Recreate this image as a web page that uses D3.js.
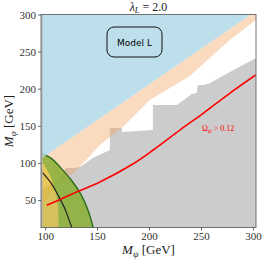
<!DOCTYPE html>
<html>
<head>
<meta charset="utf-8">
<script src="https://cdn.jsdelivr.net/npm/d3@7"></script>
<style>
  body { margin: 0; background: #fff; }
  svg { display: block; }
</style>
</head>
<body>
<svg id="chart" width="266" height="264"></svg>
<script>
// axis ticks
var xTicks = [100, 150, 200, 250, 300];
var yTicks = [50, 100, 150, 200, 250, 300];

// region boundaries as [M_psi, M_phi]
var blueEdge = [[96, 105.6], [298, 300]];
var peachEdge = [[303, 292.6], [277.7, 265.6], [239.3, 217.1], [200.8, 184.8], [174.8, 148.4],
  [152.7, 124.1], [128.7, 87.7], [109.5, 70.2], [96, 39]];
var grayEdge = [[303, 241.4], [277.7, 222.5], [258.5, 207.3], [252, 205], [247, 205], [246, 194.2],
  [241.2, 193], [226.8, 178], [203.7, 178], [203.7, 144.3], [173.9, 141.6], [173.9, 147],
  [162.3, 147], [162.3, 117.4], [146, 106.6], [133.5, 94.5], [128.7, 93.1], [120, 93.1],
  [114.3, 79.6], [104.7, 70.2], [96, 63.5]];
var greenOuter = [[96, 113.5], [97, 112.9], [105.9, 106.2], [115.5, 92.7], [125.1, 77], [134.8, 56.7],
  [141.2, 36.5], [146, 14], [146.6, 10]];
var greenInner = [[96, 103], [97, 101.6], [104.4, 83.7], [109.2, 65.8], [112.3, 43.3], [113, 12.3], [113, 10]];
var blackCurve = [[96, 89], [97.9, 86.3], [105.9, 72.5], [112.3, 56.7], [118.8, 38.8], [123.6, 20.8], [126.5, 10]];
var redCurve = [[101.5, 42.9], [115.9, 51.8], [130.3, 60.8], [152.7, 74.3], [184.8, 98.9], [204, 117.4],
  [229.7, 144.3], [252.1, 166.8], [277.7, 193.8], [302.7, 218.5]];

var svg = d3.select("#chart");
var x = d3.scaleLinear().domain([96, 303]).range([41, 256]);
var y = d3.scaleLinear().domain([13, 300]).range([227.5, 14.5]);

svg.append("clipPath").attr("id", "clip")
  .append("rect").attr("x", 41).attr("y", 14.5).attr("width", 215).attr("height", 213);

var g = svg.append("g").attr("clip-path", "url(#clip)");
var line = d3.line().x(function(d) { return x(d[0]); }).y(function(d) { return y(d[1]); });
var smooth = d3.line().curve(d3.curveCatmullRom).x(function(d) { return x(d[0]); }).y(function(d) { return y(d[1]); });

// gray excluded region
g.append("path")
  .attr("d", line(grayEdge.concat([[96, 5], [310, 5]])) + "Z")
  .attr("fill", "#cccccc");

// peach band
g.append("path")
  .attr("d", line([[96, 5], [96, 105.6], [298, 300], [310, 310], [310, 292.6]].concat(peachEdge)) + "Z")
  .attr("fill", "#f4a460").attr("opacity", 0.4);

// yellow disc and green band on top
g.append("path")
  .attr("d", smooth(greenOuter) + "L" + x(90) + "," + y(5) + "L" + x(90) + "," + y(113.5) + "Z")
  .attr("fill", "#dcb918").attr("opacity", 0.62);
g.append("path")
  .attr("d", smooth(greenOuter) + "L" + smooth(greenInner.slice().reverse()).slice(1) + "Z")
  .attr("fill", "#5aa83a").attr("opacity", 0.55);
g.append("path")
  .attr("d", smooth(greenOuter))
  .attr("fill", "none").attr("stroke", "#2d6e1e").attr("stroke-width", 1.4);

// blue region
g.append("path")
  .attr("d", line([[96, 300.5], [96, 300], blueEdge[0], blueEdge[1], [298, 310], [90, 310]]) + "Z")
  .attr("fill", "lightblue").attr("opacity", 0.82);

g.append("path").attr("d", smooth(blackCurve))
  .attr("fill", "none").attr("stroke", "#222").attr("stroke-width", 1.2);
g.append("path").attr("d", smooth(redCurve))
  .attr("fill", "none").attr("stroke", "red").attr("stroke-width", 1.6);

// thin gray strip at the left edge
g.append("rect").attr("x", 41).attr("y", 14.5).attr("width", 1.6).attr("height", 213).attr("fill", "#bbbbbb");

// frame
svg.append("rect").attr("x", 41).attr("y", 14.5).attr("width", 215).attr("height", 213)
  .attr("fill", "none").attr("stroke", "#555").attr("stroke-width", 0.8);

var serif = "'Liberation Serif', 'DejaVu Serif', serif";

var xAxis = svg.append("g").attr("transform", "translate(0,227.5)")
  .call(d3.axisBottom(x).tickValues(xTicks).tickSize(3).tickPadding(2));
var yAxis = svg.append("g").attr("transform", "translate(41,0)")
  .call(d3.axisLeft(y).tickValues(yTicks).tickSize(3).tickPadding(2));
[xAxis, yAxis].forEach(function(a) {
  a.select(".domain").remove();
  a.selectAll("line").attr("stroke", "#444").attr("stroke-width", 0.8);
  a.selectAll("text").attr("font-family", serif).attr("font-size", 11).attr("fill", "#333");
});

// model box
svg.append("rect").attr("x", 107).attr("y", 27).attr("width", 55).attr("height", 30)
  .attr("rx", 7).attr("fill", "none").attr("stroke", "#111").attr("stroke-width", 1);
svg.append("text").attr("x", 134.5).attr("y", 45.5).attr("text-anchor", "middle")
  .attr("font-family", "'DejaVu Sans', sans-serif").attr("font-size", 9).text("Model L");

// title
var t = svg.append("text").attr("x", 148.5).attr("y", 11).attr("text-anchor", "middle")
  .attr("font-family", serif).attr("font-size", 12).attr("fill", "#222");
t.append("tspan").attr("font-style", "italic").text("λ");
t.append("tspan").attr("font-style", "italic").attr("font-size", 8.5).attr("dy", 2).text("L");
t.append("tspan").attr("dy", -2).text(" = 2.0");

// axis labels
var xl = svg.append("text").attr("x", 148.5).attr("y", 254).attr("text-anchor", "middle")
  .attr("font-family", serif).attr("font-size", 13).attr("fill", "#222");
xl.append("tspan").attr("font-style", "italic").text("M");
xl.append("tspan").attr("font-style", "italic").attr("font-size", 9).attr("dy", 3).text("ψ");
xl.append("tspan").attr("dy", -3).text(" [GeV]");

var yl = svg.append("text").attr("transform", "translate(13,121) rotate(-90)").attr("text-anchor", "middle")
  .attr("font-family", serif).attr("font-size", 13).attr("fill", "#222");
yl.append("tspan").attr("font-style", "italic").text("M");
yl.append("tspan").attr("font-style", "italic").attr("font-size", 9).attr("dy", 3).text("φ");
yl.append("tspan").attr("dy", -3).text(" [GeV]");

// relic label
var rl = svg.append("text").attr("x", 202).attr("y", 131).attr("font-family", serif)
  .attr("font-size", 8).attr("fill", "red");
rl.append("tspan").text("Ω");
rl.append("tspan").attr("font-style", "italic").attr("font-size", 6).attr("dy", 2).text("ψ");
rl.append("tspan").attr("dy", -2).text(" > 0.12");
</script>
</body>
</html>
